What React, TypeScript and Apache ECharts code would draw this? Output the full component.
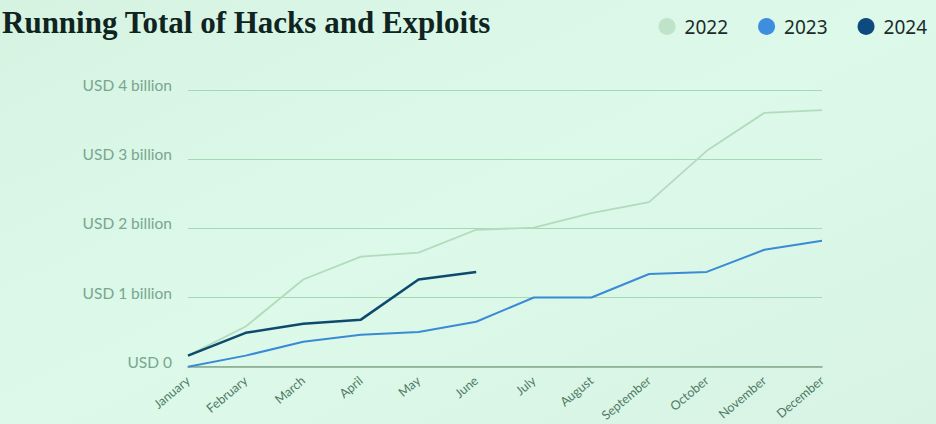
import React, { useEffect, useRef } from "react";
import * as echarts from "echarts";

const months = ["January", "February", "March", "April", "May", "June", "July", "August", "September", "October", "November", "December"];
const s2022 = [0.16, 0.58, 1.26, 1.59, 1.65, 1.98, 2.01, 2.22, 2.38, 3.12, 3.67, 3.71];
const s2023 = [0.0, 0.16, 0.36, 0.46, 0.5, 0.65, 1.0, 1.0, 1.34, 1.37, 1.69, 1.82];
const s2024 = [0.16, 0.49, 0.62, 0.68, 1.26, 1.37];
const yTicks = ["USD 0", "USD 1 billion", "USD 2 billion", "USD 3 billion", "USD 4 billion"];

export default function App() {
  const ref = useRef<HTMLDivElement>(null);
  useEffect(() => {
    document.body.style.margin = "0";
    const chart = echarts.init(ref.current!, null, { renderer: "svg" });
    chart.setOption({
      animation: false,
      backgroundColor: {
        type: "linear", x: 0, y: 0, x2: 1, y2: 1,
        colorStops: [
          { offset: 0, color: "#d6f3e2" },
          { offset: 0.5, color: "#dcf9ea" },
          { offset: 1, color: "#d8f3e4" },
        ],
      },
      title: {
        text: "Running Total of Hacks and Exploits",
        left: -3,
        top: 2,
        textStyle: { fontFamily: "Liberation Serif", fontWeight: "bold", fontSize: 31, color: "#0f2421" },
      },
      legend: {
        right: 4,
        top: 12,
        itemGap: 30,
        icon: "circle",
        itemWidth: 17,
        itemHeight: 17,
        textStyle: { fontFamily: "Noto Sans", fontSize: 19, color: "#1d2b2a", padding: [0, 0, 0, 4] },
        data: ["2022", "2023", "2024"],
      },
      grid: { left: 188, right: 114, top: 90, bottom: 57 },
      xAxis: {
        type: "category",
        data: months,
        boundaryGap: false,
        axisTick: { show: false },
        axisLine: { lineStyle: { color: "#86a88f", width: 1.5 } },
        axisLabel: { rotate: 40, color: "#4f7a64", fontFamily: "Lato", fontSize: 12.5, margin: 12, interval: 0 },
      },
      yAxis: {
        type: "value",
        min: 0,
        max: 4,
        interval: 1,
        axisLine: { show: false },
        axisTick: { show: false },
        splitLine: { lineStyle: { color: "#a6d8b4", width: 1 } },
        axisLabel: {
          color: "#78a68f",
          fontFamily: "Lato",
          fontSize: 15.5,
          margin: 16,
          verticalAlign: "bottom",
          lineHeight: 10,
          formatter: (v: number) => yTicks[Math.round(v)],
        },
      },
      series: [
        { name: "2022", type: "line", data: s2022, showSymbol: false, color: "#bfe3c8", lineStyle: { width: 1.8, color: "#b2dcbb" } },
        { name: "2023", type: "line", data: s2023, showSymbol: false, color: "#3e8ee0", lineStyle: { width: 2, color: "#3a8ad6" } },
        { name: "2024", type: "line", data: s2024, showSymbol: false, color: "#0c4a80", lineStyle: { width: 2.5, color: "#0d4a6e" } },
      ],
    });
    return () => chart.dispose();
  }, []);
  return <div ref={ref} style={{ width: 936, height: 424 }} />;
}
